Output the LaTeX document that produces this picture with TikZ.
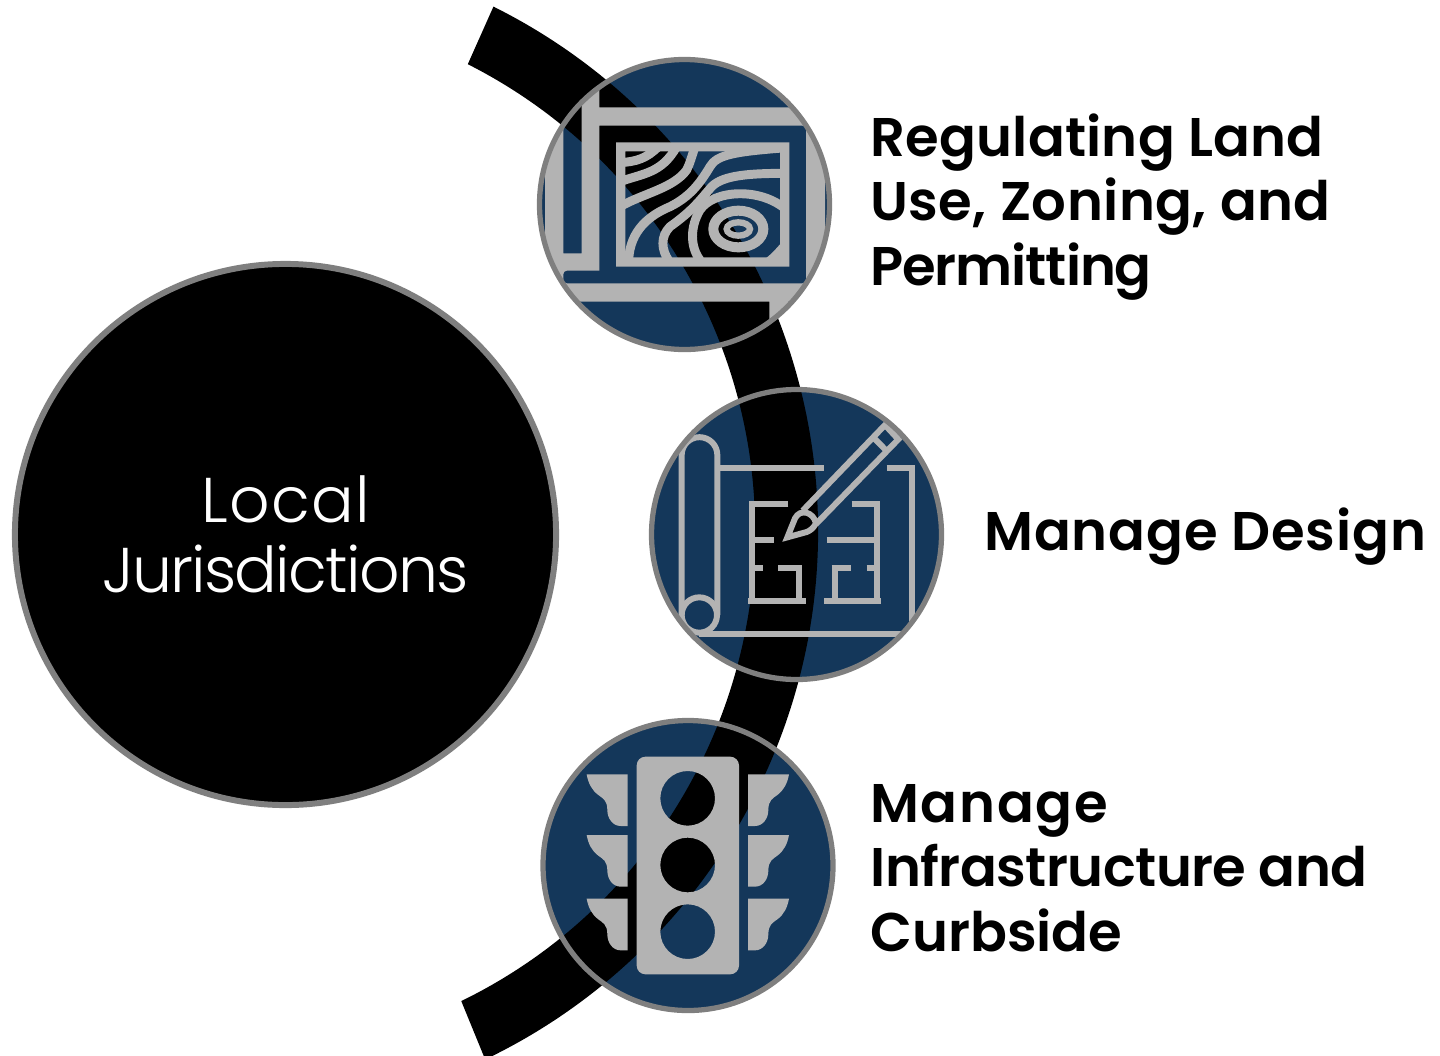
\documentclass[tikz,border=0pt]{standalone}
\usepackage{fontspec}
\usetikzlibrary{calc}
\setmainfont{Poppins}
\newfontfamily\boldlabel{Poppins SemiBold}
\newfontfamily\lightlabel{Poppins Light}
\definecolor{mynavy}{HTML}{14375A}
\definecolor{myring}{HTML}{7F7F7F}
\definecolor{myicon}{HTML}{B3B3B3}
\tikzset{
  itemtext/.style={anchor=west,align=left,inner sep=0pt,font=\boldlabel\fontsize{31}{36.85}\selectfont},
  bigtext/.style={align=center,inner sep=0pt,text=white,font=\lightlabel\fontsize{36}{40.2}\selectfont},
  disc/.style={fill=mynavy},
  ring/.style={draw=myring,line width=3pt},
  iconline/.style={draw=myicon,line width=3.4pt},
  mapline/.style={draw=myicon,line width=5.1pt},
}
\newcommand{\visorleft}{(170,193) -- (293,193) -- (293,348) -- (272,348) .. controls (248,348) and (232,325) .. (232,300) .. controls (232,270) and (218,265) .. (205,255) .. controls (185,240) and (175,220) .. (170,193) -- cycle}
\newcommand{\tracked}[2]{{\addfontfeature{LetterSpace=#1}#2}}
\begin{document}
\begin{tikzpicture}[x=0.02cm,y=-0.02cm]
	\useasboundingbox (0,0) rectangle (1440,1055);
	\coordinate (arccentre) at (232,531);
	\coordinate (landc) at (684.5,204.5);
	\coordinate (designc) at (796.5,534.5);
	\coordinate (trafficc) at (688,865.5);

	% Draw the three discs and the band over them
	\fill[disc] (landc) circle (145);
	\fill[disc] (designc) circle (145);
	\fill[disc] (trafficc) circle (145);
	\fill (arccentre) ++(-63.5:586) arc[start angle=-63.5,end angle=64.4,radius=586] -- ($(arccentre)+(64:523)$) arc[start angle=64,end angle=-63.2,radius=523] -- cycle;

	% Draw the big circle
	\node[circle,fill=black,draw=myring,line width=3.4pt,minimum size=308pt,inner sep=0pt,bigtext] (local) at (285.5,534.5) {\tracked{2}{Local}\\\tracked{-2.7}{Jurisdictions}};

	% Draw the map icon
	\begin{scope}
		\clip (landc) circle (145);
		\begin{scope}[shift={(530,50)},scale=1/3]
			\fill[myicon,even odd rule] (45,100) -- (100,100) -- (100,610) -- (155,610) -- (155,60) -- (208,60) -- (208,172) -- (885,172) -- (885,755) -- (775,755) -- (775,830) -- (718,830) -- (718,755) -- (45,755) -- cycle
				(208,227) [rounded corners=2pt] -- (828,227) -- (828,700) -- (100,700) -- (100,662) [sharp corners] -- (208,662) -- cycle
				(258,277) rectangle (778,650) (286,304) rectangle (750,622);
			\begin{scope}
				\clip (272,290) rectangle (764,636);
				\draw[mapline] (270,338) .. controls (320,335) and (350,325) .. (385,290);
				\draw[mapline] (270,395) .. controls (340,370) and (395,370) .. (440,290);
				\draw[mapline] (270,470) .. controls (340,430) and (430,415) .. (470,360) .. controls (480,340) and (485,320) .. (495,290);
				\draw[mapline] (296,630) .. controls (300,540) and (360,495) .. (420,470) .. controls (480,440) and (510,400) .. (540,350) .. controls (560,315) and (610,305) .. (770,293);
				\draw[mapline] (415,630) .. controls (395,600) and (390,560) .. (420,530) .. controls (490,480) and (510,450) .. (545,410) .. controls (580,375) and (660,370) .. (770,370);
				\draw[mapline] (510,630) .. controls (480,590) and (480,530) .. (510,480) .. controls (550,420) and (690,410) .. (770,480);
				\draw[mapline] (710,640) .. controls (730,625) and (745,610) .. (770,580);
				\draw[myicon,line width=5.7pt] (625,537) ellipse (75 and 55);
				\draw[myicon,line width=3.6pt] (625,537) ellipse (35 and 20);
			\end{scope}
		\end{scope}
	\end{scope}

	% Draw the plan and pencil icon
	\begin{scope}
		\clip (designc) circle (145);
		\begin{scope}[shift={(640,380)},scale=1/3]
			\draw[iconline] (125,705) -- (125,225) arc[start angle=180,end angle=360,radius=53.5] -- (232,705);
			\draw[iconline] (178,705) circle (53);
			\draw[iconline] (178,763) -- (820,763);
			\draw[iconline] (232,263) -- (552,263);
			\draw[iconline] (740,263) -- (815,263) -- (815,763);
			% left room
			\draw[iconline] (445,372) -- (335,372) -- (335,662);
			\draw[iconline] (335,480) -- (402,480);
			\draw[iconline] (335,565) -- (370,565);
			\draw[iconline] (325,662) -- (497,662);
			\draw[iconline] (415,565) -- (478,565) -- (478,662);
			% right room
			\draw[iconline] (635,372) -- (712,372) -- (712,662);
			\draw[iconline] (560,480) -- (712,480);
			\draw[iconline] (575,565) -- (632,565);
			\draw[iconline] (680,565) -- (712,565);
			\draw[iconline] (585,565) -- (585,662);
			\draw[iconline] (552,662) -- (722,662);
			% pencil
			\draw[iconline] (488,392) -- (735,135) -- (775,178) -- (528,432);
			\draw[iconline] (700,172) -- (742,215);
			\draw[iconline,line join=miter] (442,472) -- (465,415) .. controls (480,385) and (520,395) .. (528,430) .. controls (520,445) and (510,452) .. (500,456) -- cycle;
		\end{scope}
	\end{scope}

	% Draw the traffic light icon
	\begin{scope}[shift={(530,710)},scale=1/3]
		\fill[myicon,even odd rule] [rounded corners=5pt] (320,140) rectangle (627,793) [sharp corners]
			(473,265) circle (82) (473,465) circle (82) (473,665) circle (82);
		\foreach \visordrop in {0,182,373} {
			\fill[myicon,shift={(0,\visordrop)}] \visorleft;
			\fill[myicon,shift={(947,\visordrop)},xscale=-1] \visorleft;
		}
	\end{scope}

	% Draw the rings on top
	\draw[ring] (landc) circle (145);
	\draw[ring] (designc) circle (145);
	\draw[ring] (trafficc) circle (145);

	% Label the items
	\node[itemtext] (landtext) at (870,207) {\tracked{0.4}{Regulating Land}\\\tracked{0.8}{Use, Zoning, and}\\\tracked{-2}{Permitting}};
	\node[itemtext] (designtext) at (984,537) {\tracked{1.5}{Manage Design}};
	\node[itemtext] (traffictext) at (870,868) {\tracked{3}{Manage}\\\tracked{-1}{Infrastructure and}\\Curbside};
\end{tikzpicture}
\end{document}
